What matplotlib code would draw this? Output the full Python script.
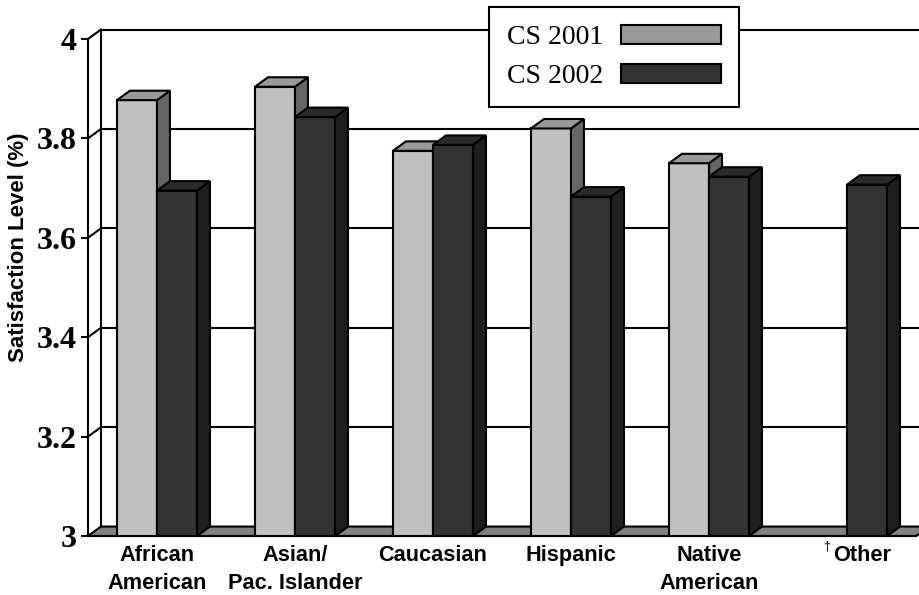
import numpy as np
import matplotlib
matplotlib.use('Agg')
import matplotlib.pyplot as plt
from matplotlib.patches import Polygon, Patch

# 数据
categories = ['African\nAmerican', 'Asian/\nPac. Islander', 'Caucasian',
              'Hispanic', 'Native\nAmerican', 'Other']
series_names = ['CS 2001', 'CS 2002']
cs2001 = [3.877, 3.904, 3.775, 3.820, 3.750, np.nan]  # Other 无2001数据
cs2002 = [3.695, 3.843, 3.787, 3.683, 3.723, 3.707]
yticks = [3.0, 3.2, 3.4, 3.6, 3.8, 4.0]

# 立体效果参数（数据单位）
BAR_W = 0.29
DX, DY = 0.094, 0.019
LW = 1.5
# 正面、顶面、侧面颜色
FACES = [('#c0c0c0', '#999999', '#666666'),
         ('#333333', '#2a2a2a', '#1e1e1e')]
FLOOR = '#808080'

SANS = 'Liberation Sans'
SERIF = 'Liberation Serif'


def draw_bar3d(ax, x0, value, colors, z):
    """画一根带顶面和侧面的柱子"""
    front, top, side = colors
    base = yticks[0]
    x1 = x0 + BAR_W
    ax.bar(x0, value - base, width=BAR_W, bottom=base, align='edge',
           color=front, edgecolor='black', linewidth=LW, zorder=z)
    side_pts = [(x1, base), (x1 + DX, base + DY), (x1 + DX, value + DY), (x1, value)]
    top_pts = [(x0, value), (x0 + DX, value + DY), (x1 + DX, value + DY), (x1, value)]
    ax.add_patch(Polygon(side_pts, closed=True, facecolor=side, edgecolor='black',
                         linewidth=LW, joinstyle='miter', zorder=z))
    ax.add_patch(Polygon(top_pts, closed=True, facecolor=top, edgecolor='black',
                         linewidth=LW, joinstyle='miter', zorder=z))


fig = plt.figure(figsize=(9.19, 5.95), dpi=100, facecolor='white')
ax = fig.add_axes([88 / 919, 59 / 595, 828 / 919, 497 / 595])
ax.set_facecolor('white')

n = len(categories)
x = np.arange(n)
xmin, xmax = -0.5, n - 0.5
ymin, ymax = yticks[0], yticks[-1]
ax.set_xlim(xmin, xmax)
ax.set_ylim(ymin, ymax)

# 后墙网格线和左侧墙斜线
for v in yticks[1:]:
    ax.plot([xmin + DX, xmax + DX], [v + DY, v + DY], color='black', lw=LW,
            clip_on=False, zorder=1, solid_capstyle='butt')
    ax.plot([xmin, xmin + DX], [v, v + DY], color='black', lw=LW,
            clip_on=False, zorder=1)
ax.plot([xmin + DX, xmin + DX], [ymin + DY, ymax + DY], color='black', lw=LW,
        clip_on=False, zorder=1)

# 底面
floor_pts = [(xmin, ymin), (xmin + DX, ymin + DY), (xmax + DX, ymin + DY), (xmax, ymin)]
ax.add_patch(Polygon(floor_pts, closed=True, facecolor=FLOOR, edgecolor='black',
                     linewidth=LW, clip_on=False, zorder=2))

# 柱子：同一组内先画2001再画2002
z = 3.0
for i in range(n):
    for j, vals in enumerate([cs2001, cs2002]):
        v = vals[i]
        if np.isnan(v):
            continue
        x0 = x[i] - BAR_W if j == 0 else x[i]
        draw_bar3d(ax, x0, v, FACES[j], z)
        z += 0.01

# 坐标轴
for s in ['top', 'right']:
    ax.spines[s].set_visible(False)
ax.spines['left'].set_linewidth(LW)
ax.spines['bottom'].set_linewidth(LW)
ax.spines['left'].set_zorder(5)

ax.set_yticks(yticks)
ax.set_yticklabels([f'{v:g}' for v in yticks], fontfamily=SERIF,
                   fontweight='bold', fontsize=23)
ax.tick_params(axis='y', direction='out', length=4.7, width=LW, pad=3.6)

ax.set_xticks(x)
ax.set_xticklabels(categories[:-1] + [''], fontfamily=SANS, fontweight='bold',
                   fontsize=15.7, linespacing=1.44)
ax.tick_params(axis='x', length=0, pad=6.5)

# 最后一类带脚注符号
ax.annotate(categories[-1], xy=(x[-1], 0), xycoords=ax.get_xaxis_transform(),
            xytext=(10.8, -6.5), textcoords='offset points', ha='center', va='top',
            fontfamily=SANS, fontweight='bold', fontsize=15.7)
ax.annotate('\u2020', xy=(x[-1], 0), xycoords=ax.get_xaxis_transform(),
            xytext=(-12.2, -2.9), textcoords='offset points', ha='right', va='top',
            fontfamily=SANS, fontsize=9)

ax.set_ylabel('Satisfaction Level (%)', fontfamily=SANS, fontweight='bold',
              fontsize=16, va='center')
ax.yaxis.set_label_coords((18.5 - 88) / 828, (536 - 247) / 497)

# 图例
handles = [Patch(facecolor=FACES[0][1], edgecolor='black', linewidth=LW),
           Patch(facecolor=FACES[1][0], edgecolor='black', linewidth=LW)]
leg = ax.legend(handles, series_names, loc='upper left',
                bbox_to_anchor=(489 / 919, 1 - 7 / 595), bbox_transform=fig.transFigure,
                markerfirst=False, fancybox=False, edgecolor='black', framealpha=1,
                borderaxespad=0, borderpad=0.63, labelspacing=0.5,
                handlelength=3.6, handletextpad=0.67,
                prop={'family': SERIF, 'size': 20})
leg.get_frame().set_linewidth(LW)
leg.set_zorder(10)

fig.savefig('out.png', dpi=100, facecolor='white')
